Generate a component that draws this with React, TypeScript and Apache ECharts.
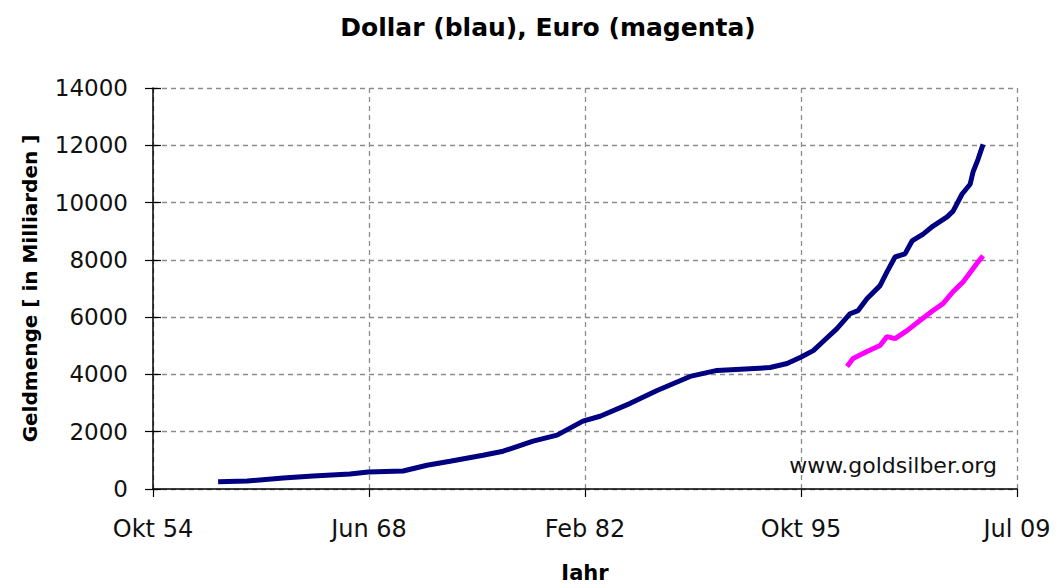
import React, { useEffect, useRef } from "react";
import * as echarts from "echarts";

// Dollar money supply (billions), sampled as decimal years
const dollarYears = [1958.88, 1960.72, 1963.0, 1964.9, 1967.24, 1968.4, 1970.6, 1972.12, 1973.58, 1975.67, 1976.94, 1978.84, 1980.36, 1982.0, 1983.09, 1985.0, 1986.7, 1988.79, 1990.5, 1993.86, 1994.94, 1995.8, 1996.6, 1997.22, 1998.1, 1998.93, 1999.44, 2000.0, 2000.83, 2001.27, 2001.78, 2002.41, 2002.86, 2003.56, 2004.19, 2005.08, 2005.46, 2006.03, 2006.54, 2006.72, 2007.04, 2007.36];
const dollarValues = [250, 280, 380, 450, 520, 590, 630, 830, 970, 1180, 1320, 1670, 1880, 2370, 2540, 2990, 3440, 3930, 4140, 4240, 4380, 4600, 4830, 5150, 5600, 6120, 6230, 6640, 7100, 7580, 8100, 8210, 8660, 8900, 9180, 9500, 9700, 10300, 10640, 11060, 11510, 12030];

// Euro money supply (billions)
const euroYears = [1998.74, 1999.12, 2000.0, 2000.83, 2001.27, 2001.78, 2002.54, 2003.36, 2004.19, 2004.82, 2005.46, 2006.09, 2006.72, 2007.04, 2007.36];
const euroValues = [4280, 4560, 4800, 5010, 5320, 5250, 5530, 5880, 6230, 6470, 6890, 7230, 7690, 7930, 8140];

// X axis ticks (Excel date serials) and labels
const xTickSerials = [20000, 25000, 30000, 35000, 40000];
const xTickLabels = ["Okt 54", "Jun 68", "Feb 82", "Okt 95", "Jul 09"];

const toSerial = (y: number) => 25569 + (y - 1970) * 365.25;

export default function App() {
  const ref = useRef<HTMLDivElement>(null);
  useEffect(() => {
    if (!ref.current) return;
    const chart = echarts.init(ref.current, null, { renderer: "svg" });
    const font = "DejaVu Sans";
    const axisCommon = { min: 0, max: 14000, interval: 2000 };
    chart.setOption({
      animation: false,
      backgroundColor: "#ffffff",
      grid: { left: 153, right: 42, top: 88, bottom: 97, containLabel: false },
      graphic: [
        {
          type: "text",
          x: 548,
          y: 27,
          style: {
            text: "Dollar (blau), Euro (magenta)",
            fontFamily: font,
            fontSize: 25,
            fontWeight: "bold",
            fill: "#000",
            align: "center",
            verticalAlign: "middle",
          },
        },
        {
          type: "text",
          x: 997,
          y: 465,
          style: {
            text: "www.goldsilber.org",
            fontFamily: font,
            fontSize: 22,
            fill: "#111",
            align: "right",
            verticalAlign: "middle",
          },
        },
      ],
      xAxis: {
        type: "value",
        min: 20000,
        max: 40000,
        interval: 5000,
        name: "Jahr",
        nameLocation: "middle",
        nameGap: 73,
        nameTextStyle: { fontFamily: font, fontSize: 21, fontWeight: "bold", color: "#000" },
        axisLine: { show: true, lineStyle: { color: "#000", width: 1.5 } },
        axisTick: { show: true, length: 8, lineStyle: { color: "#000", width: 1.2 } },
        axisLabel: {
          margin: 28,
          fontFamily: font,
          fontSize: 24,
          color: "#111",
          formatter: (v: number) => {
            const i = xTickSerials.indexOf(Math.round(v));
            return i >= 0 ? xTickLabels[i] : "";
          },
        },
        splitLine: { show: true, lineStyle: { color: "#8c8c8c", type: [5, 4], width: 1.3 } },
      },
      yAxis: [
        {
          type: "value",
          ...axisCommon,
          name: "Geldmenge [ in Milliarden ]",
          nameLocation: "middle",
          nameGap: 113,
          nameTextStyle: { fontFamily: font, fontSize: 20, fontWeight: "bold", color: "#000" },
          axisLine: { show: true, lineStyle: { color: "#000", width: 1.5 } },
          axisTick: { show: true, length: 8, lineStyle: { color: "#000", width: 1.2 } },
          axisLabel: {
            margin: 25,
            fontFamily: font,
            fontSize: 23,
            color: "#111",
            formatter: (v: number) => String(v),
          },
          splitLine: { show: true, lineStyle: { color: "#8c8c8c", type: [5, 4], width: 1.3 } },
        },
        {
          type: "value",
          ...axisCommon,
          position: "left",
          axisLine: { show: false },
          axisTick: { show: true, inside: true, length: 8, lineStyle: { color: "#000", width: 1.2 } },
          axisLabel: { show: false },
          splitLine: { show: false },
        },
      ],
      series: [
        {
          type: "line",
          name: "Dollar",
          data: dollarYears.map((y, i) => [toSerial(y), dollarValues[i]]),
          showSymbol: false,
          lineStyle: { color: "#000080", width: 5 },
        },
        {
          type: "line",
          name: "Euro",
          data: euroYears.map((y, i) => [toSerial(y), euroValues[i]]),
          showSymbol: false,
          lineStyle: { color: "#ff00ff", width: 5 },
        },
      ],
    });
    return () => chart.dispose();
  }, []);
  return <div ref={ref} style={{ width: 1059, height: 588, margin: -8 }} />;
}
